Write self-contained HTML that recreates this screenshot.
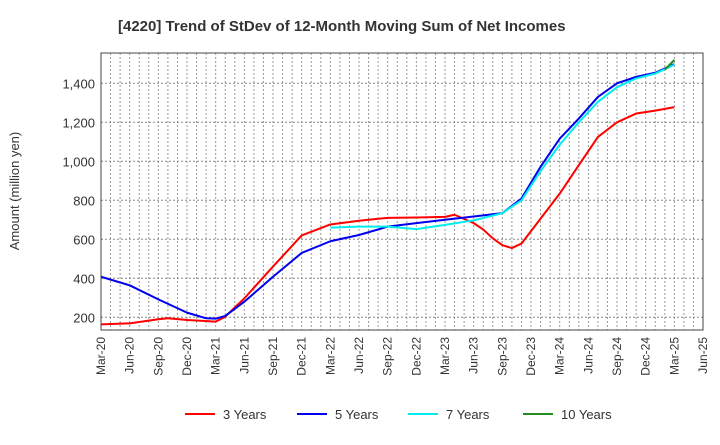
<!DOCTYPE html>
<html><head><meta charset="utf-8"><style>
body{margin:0;background:#fff;}
svg{font-family:"Liberation Sans",sans-serif;}
</style></head><body>
<svg id="chart" width="720" height="440" xmlns="http://www.w3.org/2000/svg">
<text x="118" y="31" font-size="15" font-weight="bold" fill="#333">[4220]  Trend of StDev of 12-Month Moving Sum of Net Incomes</text>
<text transform="translate(19,191) rotate(-90)" text-anchor="middle" font-size="13" fill="#333">Amount (million yen)</text>
<g id="grid"></g><g id="ticks"></g><g id="series"></g>
<rect x="101" y="53" width="602" height="277" fill="none" stroke="#444" stroke-width="1"/>
<g id="legend"></g>
</svg>
<script>
const xLabels=["Mar-20","Jun-20","Sep-20","Dec-20","Mar-21","Jun-21","Sep-21","Dec-21","Mar-22","Jun-22","Sep-22","Dec-22","Mar-23","Jun-23","Sep-23","Dec-23","Mar-24","Jun-24","Sep-24","Dec-24","Mar-25","Jun-25"];
const yTicks=[200,400,600,800,1000,1200,1400];
const m3=[0,3,6,7,9,12,13,15,18,21,24,27,30,33,36,37,39,40,41,42,43,44,46,48,50,52,54,56,58,60];
const v3=[164,169,190,195,186,178,203,297,460,620,676,695,710,712,715,726,683,650,605,570,555,578,706,834,980,1125,1200,1245,1260,1278];
const m5=[0,3,6,9,11,12,13,15,18,21,24,27,30,33,36,39,42,44,46,48,50,52,54,56,58,60];
const v5=[408,364,292,224,195,193,207,280,408,530,590,622,665,683,700,717,734,809,972,1116,1219,1330,1400,1433,1454,1498];
const m7=[24,27,30,33,36,39,42,44,46,48,50,52,54,56,58,60];
const v7=[660,665,665,652,674,697,734,800,950,1085,1200,1305,1380,1425,1450,1495];
const m10=[59,60];
const v10=[1470,1520];
const X=m=>101+m*9.556, Y=v=>317.3-(v-200)*0.195;
const NS="http://www.w3.org/2000/svg";
function mk(t,a,p){const e=document.createElementNS(NS,t);for(const k in a)e.setAttribute(k,a[k]);p.appendChild(e);return e;}
const grid=document.getElementById('grid'),ticks=document.getElementById('ticks'),series=document.getElementById('series'),legend=document.getElementById('legend');
for(let m=1;m<63;m++){const l=mk('line',{x1:X(m),x2:X(m),y1:53,y2:330,stroke:'#999','stroke-dasharray':'2,2','stroke-width':1},grid);

}
yTicks.forEach(v=>{const l=mk('line',{x1:101,x2:703,y1:Y(v),y2:Y(v),stroke:'#888','stroke-dasharray':'2,2','stroke-width':1},grid);


const t=mk('text',{x:95,y:Y(v)+5,'text-anchor':'end','font-size':13,fill:'#333'},ticks);t.textContent=v.toLocaleString('en-US');

});
xLabels.forEach((s,i)=>{const x=X(i*3);const t=mk('text',{transform:`translate(${x+4},337) rotate(-90)`,'text-anchor':'end','font-size':12,fill:'#333'},ticks);t.textContent=s;

});
function line(ms,vs,c,name){const p=mk('polyline',{points:ms.map((m,i)=>X(m)+','+Y(vs[i])).join(' '),fill:'none',stroke:c,'stroke-width':2,'stroke-linejoin':'round'},series);

}
line(m3,v3,'#ff0000','line-3-years');line(m5,v5,'#0000ee','line-5-years');line(m7,v7,'#00eeee','line-7-years');line(m10,v10,'#228b22','line-10-years');
[["3 Years","#ff0000",185],["5 Years","#0000ee",297],["7 Years","#00eeee",408],["10 Years","#228b22",523]].forEach(([n,c,x])=>{
const l=mk('line',{x1:x,x2:x+30,y1:414,y2:414,stroke:c,'stroke-width':2},legend);


const t=mk('text',{x:x+38,y:419,'font-size':13,fill:'#333'},legend);t.textContent=n;

});
</script>
</body></html>
